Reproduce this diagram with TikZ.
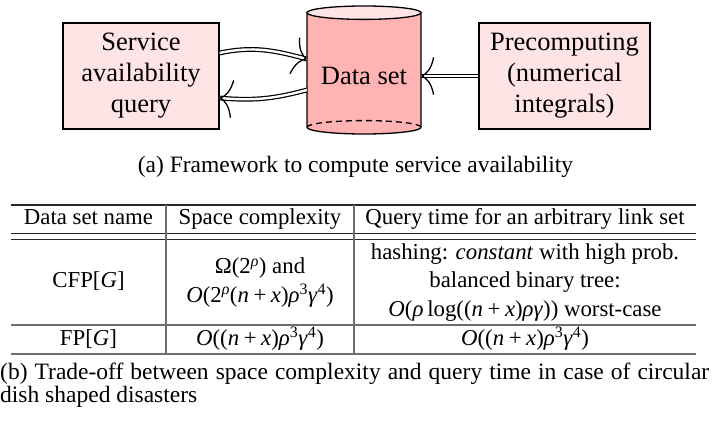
\documentclass[tikz,border=0pt]{standalone}
\usepackage{fontspec}
\setmainfont{Liberation Serif}
\usetikzlibrary{arrows.meta}
\definecolor{boxpink}{RGB}{255,228,230}
\definecolor{cylpink}{RGB}{255,179,179}
\definecolor{ruledark}{RGB}{40,40,40}
\definecolor{rulegray}{RGB}{110,110,110}
\newcommand{\myit}[1]{\textit{#1}}
\newcommand{\mysup}[1]{\textsuperscript{#1}}
\newcommand{\myplus}{\hspace{0.2em}+\hspace{0.2em}}
\begin{document}
\begin{tikzpicture}[x=1pt,y=1pt,
  procbox/.style={draw=black, line width=1.3pt, fill=boxpink, align=center, inner sep=0pt,
    minimum height=106pt, font=\fontsize{26.5}{31}\selectfont},
  dbl/.style={double, double distance=2.4pt, line width=1.2pt},
  bigtip/.style={line width=1.2pt, -{Computer Modern Rightarrow[length=13pt,width=38pt,line width=1.3pt]}},
  cylline/.style={line width=1.3pt, draw=black},
  tcell/.style={inner sep=0pt, anchor=base, font=\fontsize{22.8}{28.5}\selectfont},
  capt/.style={inner sep=0pt, font=\fontsize{23.5}{28}\selectfont},
  toprule/.style={draw=ruledark, line width=1.2pt},
  midrule/.style={draw=rulegray, line width=1.2pt}
]
\useasboundingbox (0,0) rectangle (712,423);

% ---- cylinder (data set)
\fill[cylpink] (307,410.3) -- (307,295.7) arc[start angle=180,end angle=360,x radius=57,y radius=6.7] -- (421,410.3) -- cycle;
\draw[cylline] (307,410.3) -- (307,295.7) arc[start angle=180,end angle=360,x radius=57,y radius=6.7] -- (421,410.3);
\draw[cylline, fill=boxpink] (364,410.3) ellipse[x radius=57, y radius=6.7];
\draw[cylline, dash pattern=on 6pt off 4pt] (307,295.7) arc[start angle=180,end angle=0,x radius=57,y radius=6.7];
\node[inner sep=0pt, minimum width=114pt, font=\fontsize{26.5}{31}\selectfont] (ds) at (364,347) {Data set};

% ---- boxes
\node[procbox, minimum width=156pt] (lq) at (141,347) {Service\\availability\\query};
\node[procbox, minimum width=171pt] (pc) at (564.5,347) {Precomputing\\(numerical\\integrals)};

% ---- connector end points
\coordinate (upS) at ([yshift=23pt]lq.east);
\coordinate (upE) at ([yshift=17pt]ds.west);
\coordinate (loS) at ([yshift=-14pt]ds.west);
\coordinate (loE) at ([yshift=-22pt]lq.east);

% ---- connectors
\draw[dbl] (upS) to[out=12,in=165] (upE);
\draw[bigtip] ([shift={(165:2pt)}]upE) -- (upE);
\draw[dbl] (loS) to[out=195,in=-5] (loE);
\draw[bigtip] ([shift={(-5:2pt)}]loE) -- (loE);
\draw[dbl] (pc.west) -- (ds.east);
\draw[bigtip] ([xshift=2pt]ds.east) -- (ds.east);

% ---- caption (a)
\node[capt, anchor=base] (capa) at (355.5,250) {(a) Framework to compute service availability};

% ---- table rules
\draw[toprule] (11,218) -- (696,218);
\draw[toprule] (11,189.4) -- (696,189.4);
\draw[toprule] (11,183.6) -- (696,183.6);
\draw[midrule] (11,98) -- (696,98);
\draw[midrule] (11,69) -- (696,69);
\draw[midrule] (166,218) -- (166,69);
\draw[midrule] (354,218) -- (354,69);

% ---- table text
\node[tcell] (h1) at (88.5,198) {Data set name};
\node[tcell] (h2) at (260,198) {Space complexity};
\node[tcell] (h3) at (525,198) {Query time for an arbitrary link set};

\node[tcell] (c1) at (88.5,135) {CFP[\myit{G}]};
\node[tcell] (c2a) at (260,149.3) {Ω(2\mysup{\myit{ρ}}) and};
\node[tcell] (c2b) at (260,120.8) {\myit{O}(2\mysup{\myit{ρ}}(\myit{n}\myplus\myit{x})\myit{ρ}\mysup{3}\myit{γ}\mysup{4})};
\node[tcell] (c3a) at (525,163.5) {hashing: \myit{constant} with high prob.};
\node[tcell] (c3b) at (525,135) {balanced binary tree:};
\node[tcell] (c3c) at (525,106.5) {\myit{O}(\myit{ρ}\hspace{0.17em}log((\myit{n}\myplus\myit{x})\myit{ργ})) worst-case};

\node[tcell] (f1) at (88.5,77.7) {FP[\myit{G}]};
\node[tcell] (f2) at (260,77.7) {\myit{O}((\myit{n}\myplus\myit{x})\myit{ρ}\mysup{3}\myit{γ}\mysup{4})};
\node[tcell] (f3) at (525,77.7) {\myit{O}((\myit{n}\myplus\myit{x})\myit{ρ}\mysup{3}\myit{γ}\mysup{4})};

% ---- caption (b)
\node[capt, anchor=base west] (capb1) at (0,43) {\makebox[709pt][s]{(b) Trade-off between space complexity and query time in case of circular}};
\node[capt, anchor=base west] (capb2) at (0,20) {dish shaped disasters};
\end{tikzpicture}
\end{document}
